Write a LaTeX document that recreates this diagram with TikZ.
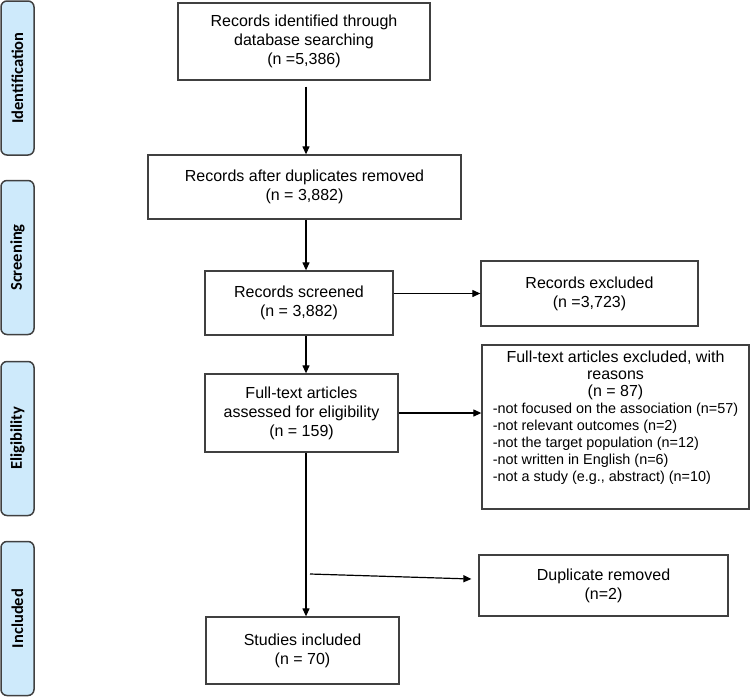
\documentclass[tikz,border=0pt]{standalone}
\usepackage{fontspec}
\setmainfont{Liberation Sans}
\newfontfamily\phasefont{Carlito}
\usetikzlibrary{arrows.meta}
\definecolor{phaseblue}{RGB}{206,234,251}
\definecolor{boxgray}{RGB}{64,64,64}

\begin{document}
\begin{tikzpicture}[x=1pt, y=-1pt,
  box/.style={draw=boxgray, line width=1.3pt, align=center, inner sep=2pt,
    font=\fontsize{16}{19}\selectfont},
  phase/.style={draw=boxgray, line width=1.5pt, fill=phaseblue, rounded corners=6pt,
    minimum width=154pt, minimum height=33pt, rotate=90,
    font=\phasefont\bfseries\fontsize{16.5}{19}\selectfont},
  arr/.style={-{Triangle[length=8pt,width=7pt]}, line width=1.2pt}]

\useasboundingbox (0,0) rectangle (750,697);

% stages on the left
\node[phase] (ident)  at (17.5,78)    {Identification};
\node[phase] (screen) at (17.5,257.5) {Screening};
\node[phase] (elig)   at (17.5,438.5) {Eligibility};
\node[phase] (incl)   at (17.5,618.5) {Included};

% the boxes
\node[box, minimum width=252pt, minimum height=77pt] (found) at (304,41.5)
  {Records identified through\\database searching\\(n =5,386)};
\node[box, minimum width=313pt, minimum height=64pt] (nodup) at (304.5,187)
  {Records after duplicates removed\\(n = 3,882)};
\node[box, minimum width=188pt, minimum height=64pt] (screened) at (299,303)
  {Records screened\\(n = 3,882)};
\node[box, minimum width=217pt, minimum height=65pt] (excluded) at (589.5,293.5)
  {Records excluded\\(n =3,723)};
\node[box, minimum width=193pt, minimum height=78pt] (fulltext) at (301.5,413)
  {Full-text articles\\assessed for eligibility\\(n = 159)};
\node[box, minimum width=267pt, minimum height=164pt, font=\fontsize{16}{17}\selectfont] (reasons) at (615.5,427)
  {Full-text articles excluded, with\\reasons\\(n = 87)\\
   \fontsize{14.4}{17}\selectfont
   \begin{tabular}[t]{@{}l@{}}
   -not focused on the association (n=57)\\
   -not relevant outcomes (n=2)\\
   -not the target population (n=12)\\
   -not written in English (n=6)\\
   -not a study (e.g., abstract) (n=10)\rule[-21pt]{0pt}{21pt}
   \end{tabular}};
\node[box, minimum width=249pt, minimum height=61pt] (duplicate) at (603.5,585.5)
  {Duplicate removed\\(n=2)};
\node[box, minimum width=193pt, minimum height=67pt] (included) at (302.5,650.5)
  {Studies included\\(n = 70)};

% arrows
\coordinate (spine) at (306,0);
\coordinate (branch) at (310,574);
\draw[arr, shorten <=6pt] (found.south -| spine) -- (nodup.north -| spine);
\draw[arr] (nodup.south -| spine) -- (screened.north -| spine);
\draw[arr] (screened.south -| spine) -- (fulltext.north -| spine);
\draw[arr] (fulltext.south -| spine) -- (included.north -| spine);
\draw[arr] (screened.east |- excluded.west) -- (excluded.west);
\draw[arr] (fulltext.east) -- (fulltext.east -| reasons.west);
\draw[arr] (branch) -- ([shift={(-7,-6.5)}]duplicate.west);

\end{tikzpicture}
\end{document}
